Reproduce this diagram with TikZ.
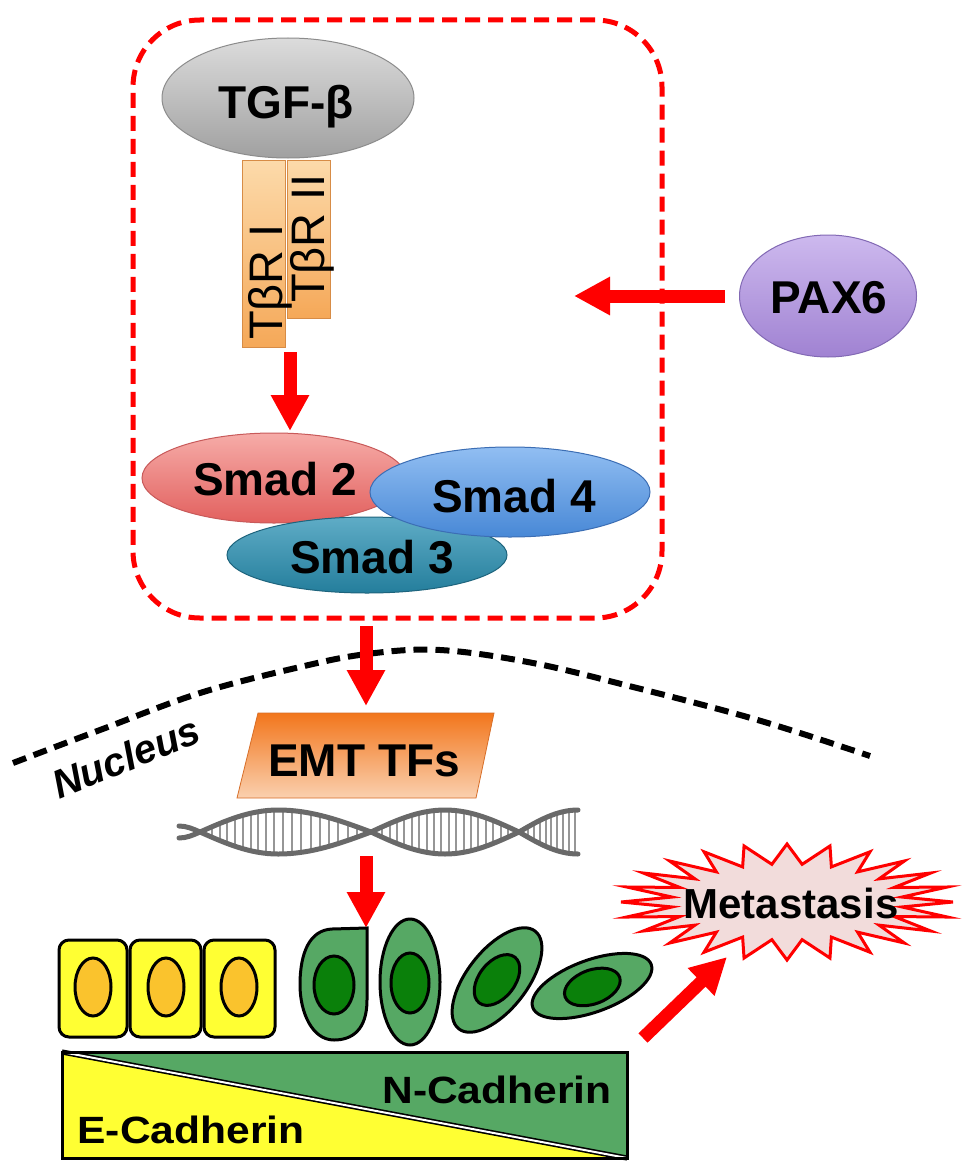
\documentclass[tikz,border=0pt]{standalone}
\usepackage{fontspec}
\setmainfont{Liberation Sans}
\usetikzlibrary{arrows.meta,shapes.geometric}
\definecolor{yel}{RGB}{255,255,51}
\definecolor{nucor}{RGB}{250,195,45}
\definecolor{gcell}{RGB}{86,168,100}
\definecolor{gnuc}{RGB}{10,128,10}
\definecolor{burstfill}{RGB}{242,220,219}
\definecolor{tgfT}{RGB}{220,220,220}
\definecolor{tgfB}{RGB}{160,160,160}
\definecolor{tgfD}{RGB}{140,140,140}
\definecolor{barT}{RGB}{252,218,170}
\definecolor{barB}{RGB}{245,168,88}
\definecolor{barD}{RGB}{215,140,70}
\definecolor{s2T}{RGB}{246,172,168}
\definecolor{s2B}{RGB}{226,96,94}
\definecolor{s2D}{RGB}{200,90,90}
\definecolor{s4T}{RGB}{145,190,242}
\definecolor{s4B}{RGB}{72,136,214}
\definecolor{s4D}{RGB}{60,110,180}
\definecolor{s3T}{RGB}{95,172,198}
\definecolor{s3B}{RGB}{36,126,156}
\definecolor{s3D}{RGB}{30,100,125}
\definecolor{paxT}{RGB}{205,185,238}
\definecolor{paxB}{RGB}{160,130,210}
\definecolor{paxD}{RGB}{130,105,180}
\definecolor{emtT}{RGB}{242,118,28}
\definecolor{emtM}{RGB}{246,138,52}
\definecolor{emtB}{RGB}{250,208,175}
\definecolor{emtD}{RGB}{215,110,40}
\definecolor{dnaS}{RGB}{105,105,105}
\definecolor{dnaR}{RGB}{150,150,150}
\newcommand\myfs[1]{\fontsize{#1pt}{#1pt}\selectfont}
\begin{document}
\begin{tikzpicture}[x=1pt,y=-1pt,
  redarrow/.style={draw=red, line width=13pt, -{Triangle[length=36pt,width=36pt]}},
  lbl/.style={font=\bfseries\myfs{46}, inner sep=0pt},
  blob/.style={shape=ellipse, inner sep=0pt, line width=1pt},
  recbar/.style={rectangle, minimum width=43pt, inner sep=0pt, draw=barD, line width=0.8pt, top color=barT, bottom color=barB},
  rtxt/.style={rotate=90, font=\myfs{47}, inner sep=0pt},
  ycell/.style={draw=black, line width=3pt, fill=yel, rounded corners=10pt},
  ynuc/.style={draw=black, line width=3pt, fill=nucor},
  gcellst/.style={draw=black, line width=3pt, fill=gcell},
  gnucst/.style={draw=black, line width=3pt, fill=gnuc},
  rung/.style={draw=dnaR, line width=2pt},
  strand/.style={draw=dnaS, line width=5pt, line cap=round},
  cadh/.style={font=\bfseries\myfs{38}, xscale=1.12, inner sep=0pt}]
\useasboundingbox (0,0) rectangle (969,1172);
\fill[white] (0,0) rectangle (969,1172);

% cytoplasm dashed box
\node[draw=red, line width=5pt, dash pattern=on 15pt off 8pt, rounded corners=67pt,
      minimum width=529pt, minimum height=598pt, inner sep=0pt] (cyto) at (397.5,319) {};

% TGF-beta
\node[blob, minimum width=252pt, minimum height=120pt, draw=tgfD, top color=tgfT, bottom color=tgfB] (tgf) at (288,98) {};
\node[lbl, anchor=base] (tgftxt) at (286,118) {TGF-β};

% receptors
\node[recbar, minimum height=158pt, anchor=north west] (r2) at (287,160) {};
\node[recbar, minimum height=187pt, anchor=north west] (r1) at (242,160) {};
\node[rtxt, anchor=base west] (r1txt) at (282,340) {TβR I};
\node[rtxt, anchor=base west] (r2txt) at (324,303) {TβR II};

% arrow receptors -> Smads
\coordinate (a1s) at (290,352);
\coordinate (a1e) at (290,431);
\draw[redarrow] (a1s) -- (a1e);

% Smads
\node[blob, minimum width=264pt, minimum height=90pt, draw=s2D, top color=s2T, bottom color=s2B] (s2) at (274,478) {};
\node[lbl] (s2t) at (275,479) {Smad 2};
\node[blob, minimum width=280pt, minimum height=76pt, draw=s3D, top color=s3T, bottom color=s3B] (s3) at (367,555) {};
\node[blob, minimum width=280pt, minimum height=90pt, draw=s4D, top color=s4T, bottom color=s4B] (s4) at (510,492) {};
\node[lbl] (s4t) at (514,496) {Smad 4};
\node[lbl] (s3t) at (372,557) {Smad 3};

% PAX6
\node[blob, minimum width=177pt, minimum height=122pt, draw=paxD, top color=paxT, bottom color=paxB] (pax) at (828,296) {};
\node[lbl] (paxt) at (829,298) {PAX6};
\coordinate (a2s) at (725,296);
\coordinate (a2e) at (574,296);
\draw[redarrow] (a2s) -- (a2e);

% nucleus membrane
\draw[black, line width=6pt, dash pattern=on 14pt off 8pt]
  plot[smooth, tension=0.6] coordinates {(13,763) (100,730) (200,693) (300,667) (367,654) (440,650) (533,663) (633,687) (733,713) (800,733) (870,756)};
\node[font=\bfseries\itshape\myfs{40}, rotate=22, inner sep=0pt] (nuc) at (126,757) {Nucleus};

% arrow box -> EMT
\coordinate (a3s) at (366,626);
\coordinate (a3e) at (366,706);
\draw[redarrow] (a3s) -- (a3e);

% EMT TFs
\path[draw=emtD, line width=0.8pt, top color=emtT, middle color=emtM, bottom color=emtB]
  (258,713) -- (494,713) -- (476,798) -- (237,798) -- cycle;
\node[lbl] (emt) at (364,761) {EMT TFs};

% DNA rungs
\foreach \a/\b/\r in {200/278/0, 278/371/1, 371/445/0, 445/519/1, 519/578/0}{
  \foreach \t in {0.05,0.15,...,0.96}{
    \pgfmathsetmacro\xx{\a+\t*(\b-\a)}
    \pgfmathsetmacro\hh{20*sin(90*(\r+(1-2*\r)*\t))}
    \draw[rung] (\xx,832-\hh) -- (\xx,832+\hh);
  }
}
\draw[strand] (179,838) cos (200,832) sin (278,810) cos (371,832) sin (445,854) cos (519,832) sin (578,810);
\draw[strand] (179,826) cos (200,832) sin (278,854) cos (371,832) sin (445,810) cos (519,832) sin (578,854);
\coordinate (dna) at (378,832);

% arrow DNA -> cells
\coordinate (a4s) at (366,856);
\coordinate (a4e) at (366,928);
\draw[redarrow] (a4s) -- (a4e);

% Metastasis burst
\coordinate (burst) at (787,902);
\draw[draw=red, line width=3pt, fill=burstfill, line join=miter]
  (953,902) \foreach \k in {0,...,23}{
    -- ({787+116*cos(15*\k+7.5)},{902+38*sin(15*\k+7.5)})
    -- ({787+166*cos(15*\k+15)},{902+58*sin(15*\k+15)}) } -- cycle;
\node[lbl, font=\bfseries\myfs{42}] (met) at (791,903) {Metastasis};

% epithelial cells
\draw[ycell] (59,940) rectangle (127,1037);
\draw[ycell] (130,940) rectangle (201,1037);
\draw[ycell] (204,940) rectangle (275,1037);
\draw[ynuc] (93,987) ellipse (18 and 29);
\draw[ynuc] (166,987) ellipse (18 and 29);
\draw[ynuc] (239,987) ellipse (18 and 29);

% mesenchymal cells
\draw[gcellst] (367,928) -- (367,1000) .. controls (367,1030) and (352,1040) .. (334,1040)
  .. controls (312,1040) and (300,1012) .. (300,985) .. controls (300,952) and (310,930) .. (332,929) -- cycle;
\draw[gnucst] (334,985) ellipse (20 and 29);
\draw[gcellst] (410,982) ellipse (30 and 63);
\draw[gnucst] (410,983) ellipse (19 and 30);
\draw[gcellst, rotate around={52:(497,980)}] (497,980) ellipse (62 and 30);
\draw[gnucst, rotate around={52:(497,980)}] (497,980) ellipse (29 and 18);
\draw[gcellst, rotate around={20:(592,986)}] (592,986) ellipse (63 and 26);
\draw[gnucst, rotate around={20:(592,986)}] (592,987) ellipse (29 and 17);

% arrow cells -> metastasis
\coordinate (a5s) at (643,1038);
\coordinate (a5e) at (727,957);
\draw[redarrow] (a5s) -- (a5e);

% cadherin gradient bar
\fill[gcell] (62,1052) -- (627,1052) -- (627,1158) -- cycle;
\fill[yel] (62,1052) -- (62,1158) -- (627,1158) -- cycle;
\draw[line width=1.6pt, double=white, double distance=2pt] (62,1052) -- (627,1158);
\draw[line width=3pt] (62,1052) rectangle (627,1158);
\node[cadh] (ncad) at (497,1090) {N-Cadherin};
\node[cadh] (ecad) at (191,1130) {E-Cadherin};
\end{tikzpicture}
\end{document}
